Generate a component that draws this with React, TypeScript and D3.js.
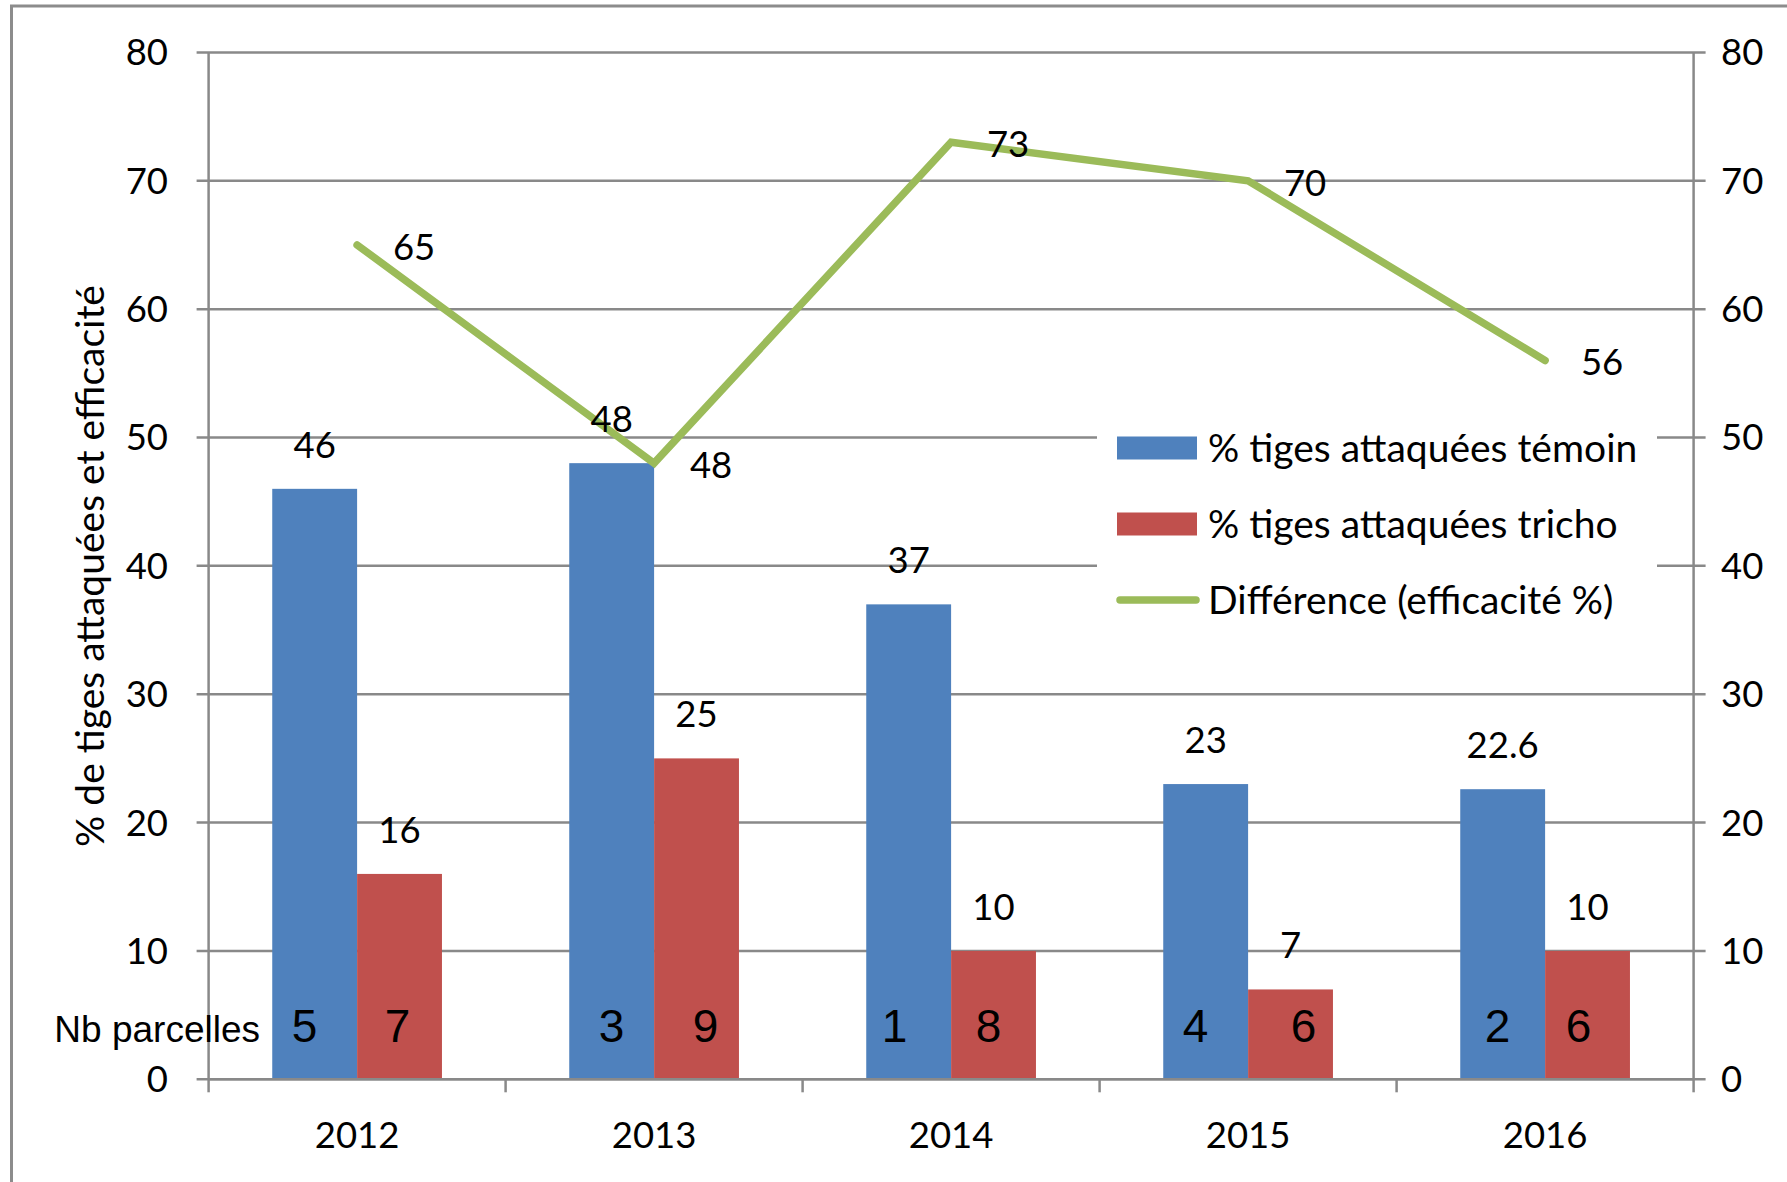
import React from 'react';
import * as d3 from 'd3';

const categories = ['2012', '2013', '2014', '2015', '2016'];
const temoin = [46, 48, 37, 23, 22.6];
const tricho = [16, 25, 10, 7, 10];
const efficacite = [65, 48, 73, 70, 56];
const nbTemoin = [5, 3, 1, 4, 2];
const nbTricho = [7, 9, 8, 6, 6];
const yTicks = [0, 10, 20, 30, 40, 50, 60, 70, 80];
const legendItems = ['% tiges attaquées témoin', '% tiges attaquées tricho', 'Différence (efficacité %)'];

// layout: manual nudges of the hand-placed "Nb parcelles" annotations
const nbTemoinDx = [-10, 0, -14, -10, -5];
const nbTrichoDx = [-2, 9, -5, 13, -9];

const W = 1787;
const H = 1182;
const left = 208.6;
const right = 1693.6;
const top = 52.4;
const bottom = 1079.3;

const BLUE = '#4F81BD';
const RED = '#C0504D';
const GREEN = '#9BBB59';
const GRID = '#898989';
const FONT = 'Lato, "Open Sans", sans-serif';
const ARIAL = '"Liberation Sans", Arial, sans-serif';
const NUM = 36.5;
const TXT = 39;

export default function App() {
  const x = d3.scaleBand<string>().domain(categories).range([left, right]).paddingInner(0).paddingOuter(0);
  const y = d3.scaleLinear().domain([0, 80]).range([bottom, top]);
  const bw = x.bandwidth();
  const barW = bw / 3.5;
  const cx = (c: string) => (x(c) as number) + bw / 2;

  const line = d3
    .line<number>()
    .x((_, i) => cx(categories[i]))
    .y((d) => y(d));

  const boundaries = categories.map((c) => x(c) as number).concat([right]);

  return (
    <svg
      width={W}
      height={H}
      style={{ position: 'absolute', left: 0, top: 0, background: '#fff' }}
      xmlns="http://www.w3.org/2000/svg"
    >
      <rect x={0} y={0} width={W} height={H} fill="#fff" />
      <rect x={11.5} y={6} width={W + 20} height={H + 20} fill="none" stroke="#8c8c8c" strokeWidth={3} />

      {yTicks.map((t) => (
        <line key={'g' + t} x1={left - 12} x2={right + 12} y1={y(t)} y2={y(t)} stroke={GRID} strokeWidth={2.5} />
      ))}
      <line x1={left} x2={left} y1={top} y2={bottom} stroke={GRID} strokeWidth={2.5} />
      <line x1={right} x2={right} y1={top} y2={bottom} stroke={GRID} strokeWidth={2.5} />
      {boundaries.map((b, i) => (
        <line key={'xt' + i} x1={b} x2={b} y1={bottom} y2={bottom + 13} stroke={GRID} strokeWidth={2.5} />
      ))}

      <rect x={1097} y={405} width={560} height={230} fill="#fff" />

      {categories.map((c, i) => (
        <g key={'b' + c}>
          <rect x={(x(c) as number) + 0.75 * barW} y={y(temoin[i])} width={barW} height={bottom - y(temoin[i])} fill={BLUE} />
          <rect x={(x(c) as number) + 1.75 * barW} y={y(tricho[i])} width={barW} height={bottom - y(tricho[i])} fill={RED} />
        </g>
      ))}
      <line x1={left} x2={right} y1={bottom} y2={bottom} stroke={GRID} strokeWidth={2.5} />

      <path d={line(efficacite) as string} fill="none" stroke={GREEN} strokeWidth={7.5} strokeLinecap="round" strokeLinejoin="miter" />

      {categories.map((c, i) => (
        <g key={'l' + c} fontFamily={FONT} fontSize={NUM} fill="#000" textAnchor="middle">
          <text x={(x(c) as number) + 1.25 * barW} y={y(temoin[i]) - 31}>{String(temoin[i])}</text>
          <text x={(x(c) as number) + 2.25 * barW} y={y(tricho[i]) - 31}>{String(tricho[i])}</text>
          <text x={cx(c) + 57} y={y(efficacite[i]) + 15}>{String(efficacite[i])}</text>
        </g>
      ))}

      <text x={260} y={1042} fontFamily={ARIAL} fontSize={37} textAnchor="end" fill="#000">Nb parcelles</text>
      {categories.map((c, i) => (
        <g key={'n' + c} fontFamily={ARIAL} fontSize={46} fill="#000" textAnchor="middle">
          <text x={(x(c) as number) + 1.25 * barW + nbTemoinDx[i]} y={1042}>{String(nbTemoin[i])}</text>
          <text x={(x(c) as number) + 2.25 * barW + nbTrichoDx[i]} y={1042}>{String(nbTricho[i])}</text>
        </g>
      ))}

      {yTicks.map((t) => (
        <g key={'yl' + t} fontFamily={FONT} fontSize={NUM} fill="#000">
          <text x={168} y={y(t) + 13} textAnchor="end">{String(t)}</text>
          <text x={1721} y={y(t) + 13} textAnchor="start">{String(t)}</text>
        </g>
      ))}

      {categories.map((c) => (
        <text key={'xl' + c} x={cx(c)} y={1148} fontFamily={FONT} fontSize={NUM} textAnchor="middle" fill="#000">{c}</text>
      ))}

      <text
        transform={`translate(104, 566) rotate(-90)`}
        fontFamily={FONT}
        fontSize={TXT}
        textAnchor="middle"
        fill="#000"
      >
        % de tiges attaquées et efficacité
      </text>

      <rect x={1117} y={436.5} width={80} height={23} fill={BLUE} />
      <rect x={1117} y={512.5} width={80} height={23} fill={RED} />
      <line x1={1120} x2={1196} y1={600} y2={600} stroke={GREEN} strokeWidth={7.5} strokeLinecap="round" />
      {legendItems.map((t, i) => (
        <text key={'lg' + i} x={1208} y={448 + i * 76 + 14} fontFamily={FONT} fontSize={TXT} fill="#000">{t}</text>
      ))}
    </svg>
  );
}
